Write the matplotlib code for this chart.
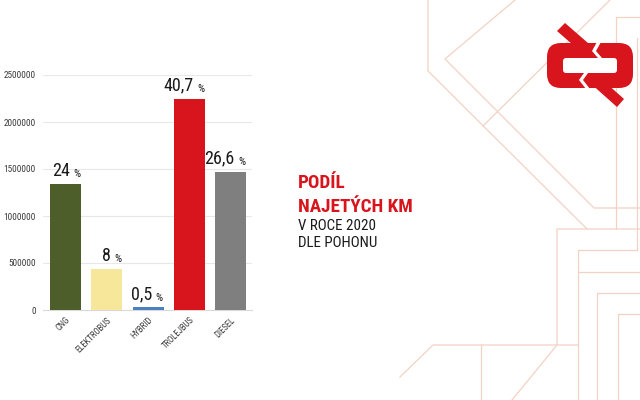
import matplotlib.pyplot as plt
from matplotlib import font_manager as fm
from matplotlib.patches import Polygon, FancyBboxPatch

categories = ['CNG', 'ELEKTROBUS', 'HYBRID', 'TROLEJBUS', 'DIESEL']
km = [1340000, 436000, 27000, 2250000, 1470000]
shares = ['24', '8', '0,5', '40,7', '26,6']
colors = ['#4e5e2a', '#f6e79b', '#4a7fc1', '#d8141c', '#7f7f7f']
yticks = [0, 500000, 1000000, 1500000, 2000000, 2500000]

RED = '#d8141c'
DECO = '#f3d2c4'


def find_condensed(bold):
    # pick a narrow/condensed face if one is installed
    best, best_score = None, -1
    for f in fm.fontManager.ttflist:
        if f.stretch != 'condensed' or f.style != 'normal':
            continue
        w = f.weight if isinstance(f.weight, int) else (700 if 'bold' in str(f.weight) else 400)
        if bold and w < 600:
            continue
        if not bold and (w >= 600 or w < 350):
            continue
        fn = f.fname.lower()
        score = 1
        if 'liberation' in fn or 'roboto' in fn:
            score += 4
        if 'noto' in fn and 'sans' in fn and 'mono' not in fn:
            score += 3
        if 'extra' in fn or 'ultra' in fn or 'semi' in fn:
            score -= 1
        if score > best_score:
            best, best_score = f.fname, score
    return best


REG = find_condensed(False)
BOLD = find_condensed(True)


def fp(size, bold=False):
    path = BOLD if bold else REG
    if path:
        return fm.FontProperties(fname=path, size=size)
    return fm.FontProperties(family='Roboto', size=size * 0.9,
                             weight='bold' if bold else 'normal')


def main():
    fig = plt.figure(figsize=(6.4, 4.0), dpi=100)

    # background in pixel coordinates
    bg = fig.add_axes([0, 0, 1, 1], zorder=0)
    bg.set_xlim(0, 640)
    bg.set_ylim(400, 0)
    bg.axis('off')
    lines = [
        [(428, 0), (428, 71), (587, 229)],
        [(515, 0), (445, 59), (594, 208), (640, 208)],
        [(610, 0), (483, 126)],
        [(640, 17), (616, 17), (616, 229)],
        [(637, 38), (637, 250)],
        [(640, 229), (557, 229), (557, 345), (512, 400)],
        [(637, 250), (578, 250), (578, 400)],
        [(578, 272), (640, 272)],
        [(640, 293), (597, 293), (597, 400)],
        [(640, 314), (618, 314), (618, 400)],
        [(400, 377), (433, 345), (578, 345)],
        [(481, 345), (481, 400)],
    ]
    for pts in lines:
        xs, ys = zip(*pts)
        bg.plot(xs, ys, color=DECO, lw=0.9)

    # logo
    bg.add_patch(FancyBboxPatch((561, 57), 58, 17, boxstyle='round,pad=14',
                                fc=RED, ec='none', zorder=2))
    bg.add_patch(FancyBboxPatch((566, 61), 48, 9, boxstyle='round,pad=3',
                                fc='white', ec='none', zorder=3))
    bg.add_patch(Polygon([(557, 31), (565, 23), (596, 50), (588, 58)],
                         fc=RED, ec='none', zorder=4))
    bg.add_patch(Polygon([(589, 82), (596, 74), (624, 99), (617, 107)],
                         fc=RED, ec='none', zorder=4))
    bg.add_patch(Polygon([(597, 42), (601, 42), (596, 51), (602, 58), (598, 58), (592, 51)],
                         fc='white', ec='none', zorder=5))
    bg.add_patch(Polygon([(584, 73), (588, 73), (583, 80), (590, 89), (586, 89), (579, 80)],
                         fc='white', ec='none', zorder=5))

    ax = fig.add_axes([0.067, 0.225, 0.327, 0.5875], zorder=2)
    ax.patch.set_alpha(0)
    x = range(len(categories))
    ax.bar(x, km, width=0.75, color=colors, zorder=3)

    ax.set_xlim(-0.55, 4.52)
    ax.set_ylim(0, 2500000)
    ax.set_yticks(yticks)
    ax.set_yticklabels([str(v) for v in yticks], color='#3a3a3a')
    ax.set_xticks(list(x))
    ax.set_xticklabels(categories, rotation=45, ha='right', rotation_mode='anchor',
                       color='#3a3a3a')
    for lab in ax.get_yticklabels():
        lab.set_fontproperties(fp(6.7))
    for lab in ax.get_xticklabels():
        lab.set_fontproperties(fp(6.3))
    ax.tick_params(length=0, pad=5)
    ax.tick_params(axis='x', pad=4)
    ax.grid(axis='y', color='#e8e8e8', lw=0.8, zorder=0)
    for s in ['left', 'right', 'top']:
        ax.spines[s].set_visible(False)
    ax.spines['bottom'].set_color('#d9d9d9')

    for i, (v, s) in enumerate(zip(km, shares)):
        t = ax.annotate(s, xy=(i, v), xytext=(3, 3), textcoords='offset points',
                        ha='right', va='bottom', fontproperties=fp(13), color='#1a1a1a')
        ax.annotate('%', xy=(1, 0), xycoords=t, xytext=(2.5, 0.5), textcoords='offset points',
                    ha='left', va='bottom', fontproperties=fp(8), color='#1a1a1a')

    fig.text(298 / 640, 1 - 188 / 400, 'PODÍL', fontproperties=fp(13.8, True), color=RED)
    fig.text(298 / 640, 1 - 212 / 400, 'NAJETÝCH KM', fontproperties=fp(13.8, True), color=RED)
    fig.text(298 / 640, 1 - 230 / 400, 'V ROCE 2020', fontproperties=fp(10.8), color='#1a1a1a')
    fig.text(298 / 640, 1 - 247 / 400, 'DLE POHONU', fontproperties=fp(10.8), color='#1a1a1a')

    fig.savefig('out.png', dpi=100)


if __name__ == '__main__':
    main()
